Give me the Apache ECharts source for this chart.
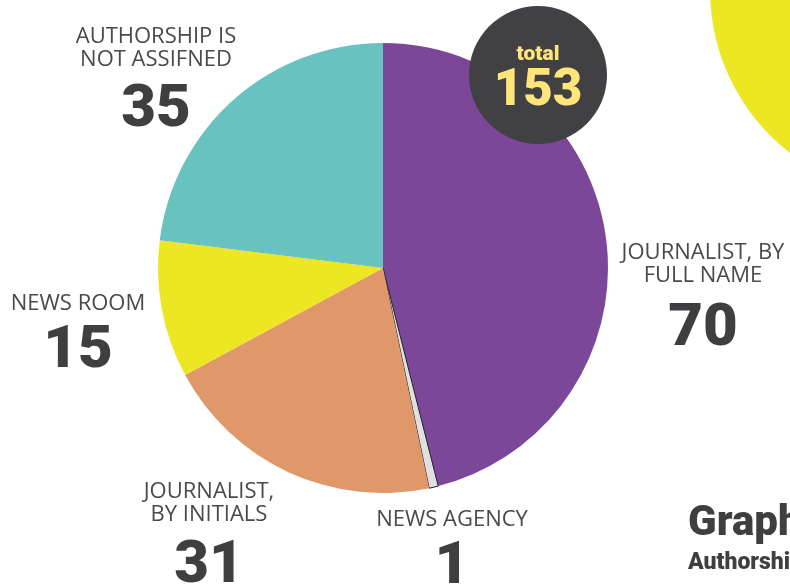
<!DOCTYPE html>
<html>
<head>
<meta charset="utf-8">
<title>Authorship</title>
<script src="https://cdn.jsdelivr.net/npm/echarts@6/dist/echarts.min.js"></script>
<style>
  html, body { margin: 0; padding: 0; background: #fff; }
  #chart { width: 790px; height: 586px; }
</style>
</head>
<body>
<div id="chart"></div>
<script>
// data
const categories = ['JOURNALIST, BY\nFULL NAME', 'NEWS AGENCY', 'JOURNALIST,\nBY INITIALS', 'NEWS ROOM', 'AUTHORSHIP IS\nNOT ASSIFNED']
const values = [70, 1, 31, 15, 35]
const totalValue = 153

const colors = ['#7D4799', '#E0E0E2', '#E0986A', '#EDE623', '#67C2C0']
// label anchor (center x, top y) per slice, and height of the number line
const labelPos = [[703, 241], [452, 508], [209, 480], [78, 292], [156, 25]]
const numLine = [86, 74, 82, 74, 80]

const chart = echarts.init(document.getElementById('chart'))

chart.setOption({
  animation: false,
  backgroundColor: '#ffffff',
  graphic: [
    {
      type: 'circle',
      shape: { cx: 916, cy: -10, r: 206 },
      style: { fill: '#EDE623' },
      z: 1
    },
    {
      type: 'circle',
      shape: { cx: 538, cy: 75, r: 69 },
      style: { fill: '#414143' },
      z: 100
    },
    {
      type: 'text',
      x: 538, y: 55, z: 101,
      style: {
        text: 'total', fill: '#FFE57A', align: 'center', verticalAlign: 'middle',
        font: '900 21px Roboto'
      }
    },
    {
      type: 'text',
      x: 538, y: 92, z: 101,
      style: {
        text: String(totalValue), fill: '#FFE57A', align: 'center', verticalAlign: 'middle',
        font: '900 51px Roboto'
      }
    },
    {
      type: 'text',
      x: 688, y: 524, z: 101,
      style: {
        text: 'Graph 1', fill: '#3F3F41', align: 'left', verticalAlign: 'middle',
        font: '900 42px Roboto'
      }
    },
    {
      type: 'text',
      x: 688, y: 563, z: 101,
      style: {
        text: 'Authorship', fill: '#3F3F41', align: 'left', verticalAlign: 'middle',
        font: '900 23px Roboto'
      }
    }
  ],
  series: [{
    type: 'pie',
    center: [383, 268],
    radius: 225,
    startAngle: 90,
    clockwise: true,
    z: 10,
    labelLine: { show: false },
    emphasis: { disabled: true },
    label: {
      show: true,
      position: 'outside',
      overflow: 'none',
      formatter: p => '{n|' + p.name + '}\n{v|' + p.value + '}',
      rich: {
        n: { fontFamily: 'Open Sans', fontSize: 22, lineHeight: 23, color: '#4A4A4C', align: 'center' },
        v: { fontFamily: 'Roboto', fontWeight: 900, fontSize: 60, lineHeight: 80, color: '#3F3F41', align: 'center' }
      }
    },
    labelLayout: params => ({
      x: labelPos[params.dataIndex][0],
      y: labelPos[params.dataIndex][1],
      align: 'center',
      verticalAlign: 'top'
    }),
    data: categories.map((name, i) => ({
      name: name,
      value: values[i],
      label: { rich: { v: { lineHeight: numLine[i] } } },
      itemStyle: i === 1
        ? { color: colors[i], borderColor: '#1E1E1E', borderWidth: 1 }
        : { color: colors[i], borderWidth: 0 }
    }))
  }]
})
</script>
</body>
</html>
